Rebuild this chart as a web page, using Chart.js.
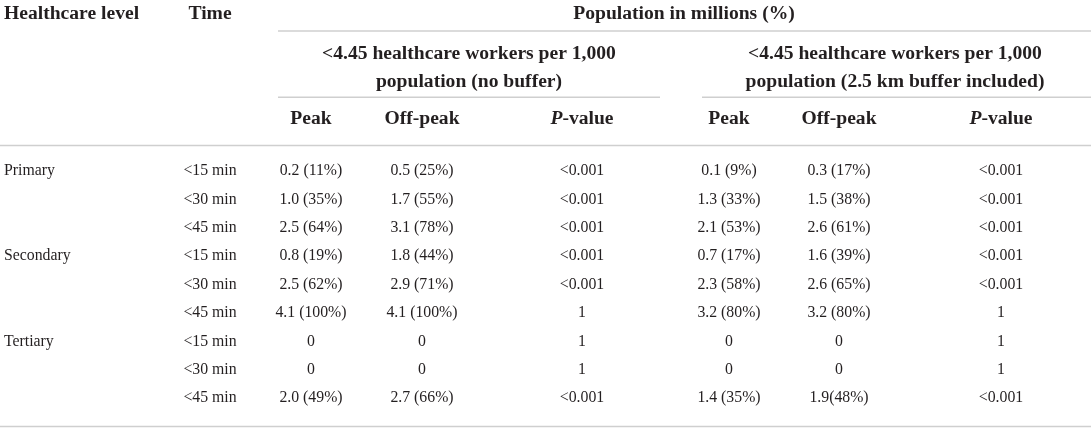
<!DOCTYPE html>
<html>
<head>
<meta charset="utf-8">
<script src="https://cdn.jsdelivr.net/npm/chart.js@4/dist/chart.umd.min.js"></script>
<style>
    html, body { margin: 0; padding: 0; background: #ffffff; }
    #wrap { width: 1091px; height: 429px; }
</style>
</head>
<body>
<div id="wrap"><canvas id="tableChart" width="1091" height="429"></canvas></div>
<script>
// Данные таблицы
const levels = ['Primary', 'Secondary', 'Tertiary'];
const timeBands = ['<15 min', '<30 min', '<45 min'];

const peakNoBuffer = ['0.2 (11%)', '1.0 (35%)', '2.5 (64%)', '0.8 (19%)', '2.5 (62%)', '4.1 (100%)', '0', '0', '2.0 (49%)'];
const offPeakNoBuffer = ['0.5 (25%)', '1.7 (55%)', '3.1 (78%)', '1.8 (44%)', '2.9 (71%)', '4.1 (100%)', '0', '0', '2.7 (66%)'];
const pValueNoBuffer = ['<0.001', '<0.001', '<0.001', '<0.001', '<0.001', '1', '1', '1', '<0.001'];

const peakBuffer = ['0.1 (9%)', '1.3 (33%)', '2.1 (53%)', '0.7 (17%)', '2.3 (58%)', '3.2 (80%)', '0', '0', '1.4 (35%)'];
const offPeakBuffer = ['0.3 (17%)', '1.5 (38%)', '2.6 (61%)', '1.6 (39%)', '2.6 (65%)', '3.2 (80%)', '0', '0', '1.9(48%)'];
const pValueBuffer = ['<0.001', '<0.001', '<0.001', '<0.001', '<0.001', '1', '1', '1', '<0.001'];

const headerTitles = ['Healthcare level', 'Time', 'Population in millions (%)'];
const groupTitles = [
    ['<4.45 healthcare workers per 1,000', 'population (no buffer)'],
    ['<4.45 healthcare workers per 1,000', 'population (2.5 km buffer included)']
];
// _P_ = курсив
const columnTitles = ['Peak', 'Off-peak', '_P_-value', 'Peak', 'Off-peak', '_P_-value'];

// Раскладка: x в пикселях шкалы, y в "строках" таблицы
const colX = { level: 4, time: 210, peak1: 311, off1: 422, p1: 582, peak2: 729, off2: 839, p2: 1001 };
const headX = { pop: 684, group1: 469, group2: 895 };
const headY = { top: -5.52, line1: -4.93, groupA: -4.12, groupB: -3.13, line2: -2.595, cols: -1.85, line3: -0.898, bottom: 8.996 };

const rows = levels.flatMap((lvl) => timeBands.map((t, j) => ({ level: j === 0 ? lvl : '', time: t })));

const bodyColumns = [
    { key: 'level', text: rows.map((r) => r.level), align: 'left' },
    { key: 'time', text: rows.map((r) => r.time), align: 'center' },
    { key: 'peak1', text: peakNoBuffer, align: 'center' },
    { key: 'off1', text: offPeakNoBuffer, align: 'center' },
    { key: 'p1', text: pValueNoBuffer, align: 'center' },
    { key: 'peak2', text: peakBuffer, align: 'center' },
    { key: 'off2', text: offPeakBuffer, align: 'center' },
    { key: 'p2', text: pValueBuffer, align: 'center' }
];

const SERIF = '"Liberation Serif", "Times New Roman", serif';
const HEAD_FONT = 'bold 19.6px ' + SERIF;
const HEAD_ITALIC = 'italic bold 19.6px ' + SERIF;
const BODY_FONT = '15.8px ' + SERIF;
const TEXT_COLOR = '#231f20';
const RULE_COLOR = '#cfcfcf';

// Текст со вставками курсива
function drawRuns(ctx, text, x, y, align) {
    const parts = text.split('_').map((s, i) => ({ s, italic: i % 2 === 1 })).filter((p) => p.s);
    let total = 0;
    parts.forEach((p) => {
        ctx.font = p.italic ? HEAD_ITALIC : HEAD_FONT;
        p.w = ctx.measureText(p.s).width;
        total += p.w;
    });
    let cx = align === 'left' ? x : x - total / 2;
    ctx.textAlign = 'left';
    parts.forEach((p) => {
        ctx.font = p.italic ? HEAD_ITALIC : HEAD_FONT;
        ctx.fillText(p.s, cx, y);
        cx += p.w;
    });
}

const tablePlugin = {
    id: 'tablePlugin',
    afterDatasetsDraw(chart) {
        const ctx = chart.ctx;
        const xs = chart.scales.x;
        const ys = chart.scales.y;
        ctx.save();
        ctx.fillStyle = TEXT_COLOR;
        ctx.textBaseline = 'middle';

        // Линии
        ctx.strokeStyle = RULE_COLOR;
        ctx.lineWidth = 1.5;
        const rules = [
            [headY.line1, 278, 1091],
            [headY.line2, 278, 660],
            [headY.line2, 702, 1091],
            [headY.line3, 0, 1091],
            [headY.bottom, 0, 1091]
        ];
        rules.forEach(([y, x0, x1]) => {
            const py = ys.getPixelForValue(y);
            ctx.beginPath();
            ctx.moveTo(xs.getPixelForValue(x0), py);
            ctx.lineTo(xs.getPixelForValue(x1), py);
            ctx.stroke();
        });

        // Заголовки
        const topY = ys.getPixelForValue(headY.top);
        drawRuns(ctx, headerTitles[0], xs.getPixelForValue(colX.level), topY, 'left');
        drawRuns(ctx, headerTitles[1], xs.getPixelForValue(colX.time), topY, 'center');
        drawRuns(ctx, headerTitles[2], xs.getPixelForValue(headX.pop), topY, 'center');

        [headX.group1, headX.group2].forEach((gx, g) => {
            drawRuns(ctx, groupTitles[g][0], xs.getPixelForValue(gx), ys.getPixelForValue(headY.groupA), 'center');
            drawRuns(ctx, groupTitles[g][1], xs.getPixelForValue(gx), ys.getPixelForValue(headY.groupB), 'center');
        });

        const colKeys = ['peak1', 'off1', 'p1', 'peak2', 'off2', 'p2'];
        colKeys.forEach((k, i) => {
            drawRuns(ctx, columnTitles[i], xs.getPixelForValue(colX[k]), ys.getPixelForValue(headY.cols), 'center');
        });

        // Ячейки: позиции берём из точек набора данных
        ctx.font = BODY_FONT;
        chart.data.datasets.forEach((ds, d) => {
            const meta = chart.getDatasetMeta(d);
            ctx.textAlign = ds.cellAlign;
            meta.data.forEach((pt, i) => {
                if (ds.cellText[i]) ctx.fillText(ds.cellText[i], pt.x, pt.y);
            });
        });
        ctx.restore();
    }
};

const ctx = document.getElementById('tableChart').getContext('2d');

window.tableChart = new Chart(ctx, {
    type: 'scatter',
    data: {
        datasets: bodyColumns.map((col) => ({
            label: col.key,
            data: col.text.map((_, i) => ({ x: colX[col.key], y: i })),
            cellText: col.text,
            cellAlign: col.align,
            pointRadius: 0,
            pointHoverRadius: 0
        }))
    },
    options: {
        responsive: false,
        animation: false,
        events: [],
        layout: { padding: 0 },
        plugins: {
            legend: { display: false },
            tooltip: { enabled: false }
        },
        scales: {
            x: { type: 'linear', display: false, min: 0, max: 1091 },
            y: { type: 'linear', display: false, reverse: true, min: -6.021, max: 9.085 }
        }
    },
    plugins: [tablePlugin]
});
</script>
</body>
</html>
